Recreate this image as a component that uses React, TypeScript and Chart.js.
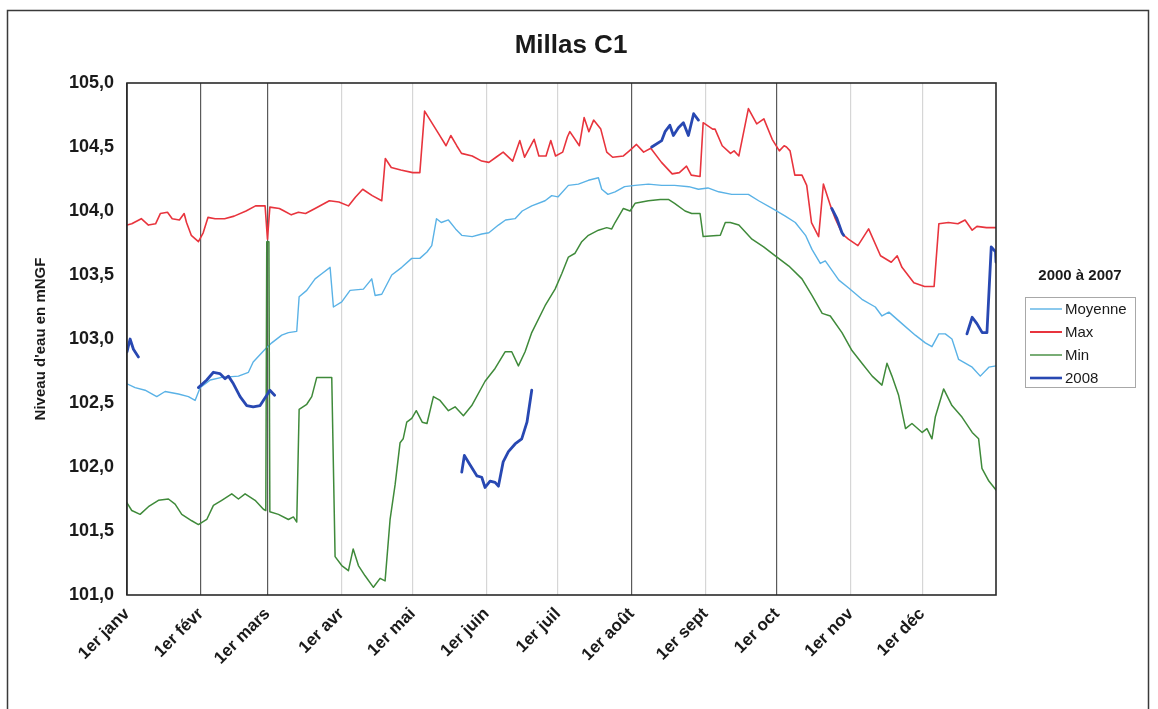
import React, { useEffect, useRef } from 'react';
import { Chart, registerables } from 'chart.js';

Chart.register(...registerables);

const FONT = "'Liberation Sans', Arial, Helvetica, sans-serif";

const chartTitle = 'Millas C1';
const legendTitle = '2000 à 2007';
const yAxisTitle = "Niveau d'eau en mNGF";

// x = day of year (0 = 1er janv), y = niveau (mNGF)
const monthStarts = [0, 31, 59, 90, 120, 151, 181, 212, 243, 273, 304, 334];
const monthLabels = ['1er janv', '1er févr', '1er mars', '1er avr', '1er mai', '1er juin', '1er juil', '1er août', '1er sept', '1er oct', '1er nov', '1er déc'];
const monthGridColors = ['#333333', '#5a5a5a', '#5a5a5a', '#d6d6d6', '#d6d6d6', '#d6d6d6', '#d6d6d6', '#5a5a5a', '#d6d6d6', '#5a5a5a', '#d6d6d6', '#d6d6d6'];
const yTicks = [101, 101.5, 102, 102.5, 103, 103.5, 104, 104.5, 105];

const moyenne: [number, number][] = [
  [0, 102.65], [3.4, 102.62], [7.6, 102.6], [12.5, 102.55], [16, 102.59], [21.6, 102.57], [25.8, 102.55], [28.6, 102.52],
  [30.7, 102.62], [35, 102.68], [39.8, 102.7], [46.8, 102.71], [51, 102.74], [53, 102.82], [58, 102.92], [60.8, 102.97],
  [65, 103.03], [67.8, 103.05], [71.3, 103.06], [72.3, 103.33], [75.5, 103.38], [79, 103.47], [81.8, 103.51], [85.3, 103.56],
  [86.7, 103.25], [90.2, 103.29], [93.7, 103.38], [99.3, 103.39], [102.8, 103.47], [104.2, 103.34], [107, 103.35], [111.2, 103.5],
  [115.4, 103.56], [119.6, 103.63], [123, 103.63], [126, 103.68], [128, 103.73], [130, 103.94], [132, 103.91], [135, 103.93],
  [138, 103.86], [140.6, 103.81], [145, 103.8], [149, 103.82], [152, 103.83], [156, 103.89], [159, 103.93], [163, 103.94],
  [166, 104.0], [170, 104.04], [175.6, 104.08], [178.4, 104.12], [181, 104.11], [185.4, 104.2], [189.6, 104.21], [193.8, 104.24],
  [198, 104.26], [199.4, 104.17], [202, 104.13], [205, 104.15], [209, 104.19], [213.4, 104.2], [219, 104.21], [224.6, 104.2],
  [230, 104.2], [236, 104.19], [240, 104.17], [244, 104.18], [248.5, 104.15], [254, 104.13], [261, 104.13], [265.3, 104.08],
  [271, 104.02], [276.5, 103.96], [280.7, 103.91], [285, 103.81], [287.7, 103.7], [291.2, 103.59], [293.3, 103.61], [299, 103.46],
  [303, 103.4], [308.7, 103.31], [314.3, 103.25], [317.1, 103.18], [320, 103.21], [325.5, 103.12], [331.1, 103.03], [335.3, 102.97],
  [338.1, 102.94], [341, 103.04], [343.7, 103.04], [346.5, 103.0], [349.3, 102.84], [355, 102.78], [358.4, 102.71], [362, 102.78],
  [365, 102.79],
];

const maximum: [number, number][] = [
  [0, 103.89], [2, 103.9], [6, 103.94], [9, 103.89], [12, 103.9], [14, 103.98], [17, 103.99], [19, 103.94], [22, 103.93],
  [24, 103.98], [25, 103.91], [27, 103.81], [30, 103.76], [32, 103.83], [34, 103.95], [37, 103.94], [41, 103.94], [45, 103.96],
  [50, 104.0], [54, 104.04], [58, 104.04], [59, 103.78], [60, 104.03], [64, 104.02], [66, 104.0], [69, 103.97], [72, 103.99],
  [75, 103.98], [79, 104.02], [85, 104.08], [89, 104.07], [93, 104.04], [96, 104.11], [99, 104.17], [103, 104.12], [107, 104.08],
  [108.5, 104.41], [111, 104.34], [115, 104.32], [120, 104.3], [123, 104.3], [125, 104.78], [128, 104.69], [131, 104.6],
  [134, 104.51], [136, 104.59], [138.5, 104.51], [140.5, 104.45], [145, 104.43], [149, 104.39], [152, 104.38], [155, 104.42],
  [158, 104.46], [162, 104.39], [165, 104.55], [167, 104.42], [171, 104.56], [173, 104.43], [176, 104.43], [178, 104.55],
  [180, 104.43], [183, 104.46], [185, 104.58], [186, 104.62], [190, 104.51], [192, 104.73], [194, 104.62], [196, 104.71],
  [199, 104.64], [201.5, 104.46], [204, 104.42], [208.5, 104.43], [211, 104.47], [214, 104.52], [217, 104.46], [220, 104.49],
  [224.5, 104.38], [229, 104.29], [232, 104.3], [235, 104.35], [237, 104.28], [240.7, 104.27], [242, 104.69], [246, 104.64],
  [247, 104.64], [250, 104.51], [253.5, 104.45], [255, 104.47], [257, 104.43], [261, 104.8], [264.5, 104.68], [267.5, 104.72],
  [271, 104.56], [274, 104.47], [276, 104.51], [277, 104.5], [278.5, 104.47], [280.5, 104.28], [283.5, 104.28], [285.5, 104.2],
  [287.5, 103.91], [290.5, 103.8], [292.5, 104.21], [295.5, 104.04], [297.5, 103.94], [300.5, 103.82], [303, 103.78],
  [307, 103.73], [311.5, 103.86], [316.5, 103.65], [321, 103.6], [323.5, 103.65], [325.5, 103.56], [330.5, 103.44],
  [335, 103.41], [339, 103.41], [341, 103.9], [345, 103.91], [349, 103.9], [352, 103.93], [355, 103.85], [357, 103.88],
  [361, 103.87], [365, 103.87],
];

const minimum: [number, number][] = [
  [0, 101.72], [2, 101.66], [5.5, 101.63], [9, 101.69], [13.2, 101.74], [17.4, 101.75], [20.2, 101.71], [23, 101.63],
  [27.2, 101.58], [30, 101.55], [33.5, 101.59], [36.3, 101.7], [39.8, 101.74], [44, 101.79], [46.8, 101.75], [49.6, 101.79],
  [53.8, 101.74], [57.3, 101.67], [58.3, 101.66], [58.7, 103.76], [59.6, 103.76], [60, 101.65], [63.6, 101.63], [67.8, 101.59],
  [69.9, 101.61], [71.3, 101.57], [72.3, 102.45], [75.5, 102.49], [77.6, 102.55], [79.7, 102.7], [86, 102.7], [87.4, 101.3],
  [90.2, 101.23], [93, 101.19], [95, 101.36], [97.2, 101.23], [100, 101.15], [103.5, 101.06], [106.3, 101.13], [108.4, 101.11],
  [110.5, 101.59], [112.6, 101.86], [114.7, 102.19], [116, 102.22], [117.5, 102.35], [119.6, 102.38], [121.5, 102.44],
  [124, 102.35], [126, 102.34], [128.7, 102.55], [131.5, 102.52], [135, 102.44], [137.8, 102.47], [141.3, 102.4], [144.8, 102.48],
  [150.4, 102.67], [154.6, 102.77], [158.8, 102.9], [161.6, 102.9], [164.4, 102.79], [167.2, 102.9], [170, 103.05],
  [175.6, 103.26], [179.8, 103.39], [182.6, 103.51], [185.4, 103.64], [188.2, 103.67], [191, 103.76], [193.8, 103.81],
  [198, 103.85], [201.5, 103.87], [203.6, 103.86], [205, 103.91], [208.5, 104.02], [211.3, 104.0], [213.4, 104.06],
  [219, 104.08], [224, 104.09], [227.4, 104.09], [230, 104.06], [234.4, 104.0], [237.2, 103.98], [240.7, 103.98], [242, 103.8],
  [249.2, 103.81], [251.3, 103.91], [253.4, 103.91], [257, 103.89], [262.5, 103.78], [267.4, 103.72], [272.3, 103.65],
  [278, 103.57], [283.5, 103.47], [287.7, 103.34], [292, 103.2], [295.4, 103.18], [300.3, 103.05], [304.5, 102.91],
  [308.7, 102.81], [313, 102.71], [317.1, 102.64], [319.2, 102.81], [321.3, 102.71], [324.1, 102.56], [327, 102.3],
  [329.7, 102.34], [334, 102.27], [336, 102.3], [338.1, 102.22], [339.5, 102.39], [343, 102.61], [346.5, 102.48],
  [350.7, 102.39], [355, 102.27], [357.7, 102.22], [359.1, 101.99], [362, 101.89], [365, 101.82],
];

const y2008Janv: [number, number][] = [[0, 102.9], [1.3, 103.0], [2.7, 102.92], [4.8, 102.86]];
const y2008Fev: [number, number][] = [
  [30, 102.62], [33.5, 102.68], [36.3, 102.74], [39, 102.73], [41.2, 102.69], [42.6, 102.71], [44.7, 102.65],
  [47.5, 102.55], [50.3, 102.48], [53, 102.47], [55.9, 102.48], [58.7, 102.56], [60, 102.6], [62, 102.56],
];
const y2008Juin: [number, number][] = [
  [140.6, 101.96], [141.7, 102.09], [144, 102.02], [147, 101.93], [149, 101.92], [150.4, 101.84], [152.5, 101.89],
  [154.6, 101.88], [156, 101.85], [158, 102.04], [160.2, 102.12], [163, 102.18], [165.8, 102.22], [168, 102.35], [170, 102.6],
];
const y2008Aout: [number, number][] = [
  [220.4, 104.5], [224.6, 104.55], [226, 104.62], [228, 104.67], [229.5, 104.59], [231.6, 104.65], [233.7, 104.69],
  [235.8, 104.59], [238, 104.76], [240, 104.71],
];
const y2008Oct: [number, number][] = [[296, 104.02], [298.2, 103.94], [300.3, 103.83], [301, 103.81]];
const y2008Dec: [number, number][] = [
  [352.8, 103.04], [355, 103.17], [357, 103.12], [359.2, 103.05], [361.2, 103.05], [363, 103.72], [364.8, 103.68], [365, 103.6],
];

const toPts = (arr: [number, number][]) => arr.map(([x, y]) => ({ x, y }));
const joinSegments = (segs: [number, number][][]) => {
  const out: { x: number; y: number | null }[] = [];
  segs.forEach((s, i) => {
    if (i > 0) out.push({ x: (out[out.length - 1].x + s[0][0]) / 2, y: null });
    out.push(...toPts(s));
  });
  return out;
};

const decorPlugin = {
  id: 'decor',
  beforeDraw(chart: any) {
    const { ctx } = chart;
    ctx.save();
    ctx.fillStyle = '#ffffff';
    ctx.fillRect(0, 0, chart.width, chart.height);
    ctx.restore();
  },
  afterDraw(chart: any) {
    const { ctx, chartArea } = chart;
    ctx.save();
    // outer frame (bottom edge falls outside the picture)
    ctx.strokeStyle = '#3a3a3a';
    ctx.lineWidth = 1.5;
    ctx.strokeRect(7.5, 10.5, 1141, 705);
    // plot area border
    ctx.strokeStyle = '#2a2a2a';
    ctx.lineWidth = 1.6;
    ctx.strokeRect(chartArea.left, chartArea.top, chartArea.right - chartArea.left, chartArea.bottom - chartArea.top);
    // title
    ctx.fillStyle = '#1a1a1a';
    ctx.font = `bold 26px ${FONT}`;
    ctx.textAlign = 'center';
    ctx.textBaseline = 'alphabetic';
    ctx.fillText(chartTitle, 571, 53);
    // legend
    ctx.font = `bold 15px ${FONT}`;
    ctx.textBaseline = 'middle';
    ctx.fillText(legendTitle, 1080, 276);
    ctx.strokeStyle = '#a8a8a8';
    ctx.lineWidth = 1;
    ctx.strokeRect(1025.5, 297.5, 110, 90);
    ctx.font = `15px ${FONT}`;
    ctx.textAlign = 'left';
    const items = chart.data.datasets.map((d: any) => d).sort((a: any, b: any) => a.legendIndex - b.legendIndex);
    items.forEach((d: any, i: number) => {
      const y = 309 + i * 23;
      ctx.strokeStyle = d.borderColor;
      ctx.lineWidth = d.legendLineWidth;
      ctx.beginPath();
      ctx.moveTo(1030, y);
      ctx.lineTo(1062, y);
      ctx.stroke();
      ctx.fillStyle = '#1a1a1a';
      ctx.fillText(d.label, 1065, y + 1);
    });
    ctx.restore();
  },
};

export default function App() {
  const ref = useRef<HTMLCanvasElement | null>(null);

  useEffect(() => {
    if (!ref.current) return;
    Chart.defaults.font.family = FONT;
    const chart = new Chart(ref.current, {
      type: 'line',
      data: {
        datasets: [
          { label: 'Moyenne', data: toPts(moyenne), borderColor: '#5ab2e6', borderWidth: 1.4, legendLineWidth: 1.4, legendIndex: 0, order: 3 } as any,
          { label: 'Max', data: toPts(maximum), borderColor: '#e8343d', borderWidth: 1.6, legendLineWidth: 2, legendIndex: 1, order: 2 } as any,
          { label: 'Min', data: toPts(minimum), borderColor: '#3f8a3a', borderWidth: 1.5, legendLineWidth: 1.4, legendIndex: 2, order: 1 } as any,
          { label: '2008', data: joinSegments([y2008Janv, y2008Fev, y2008Juin, y2008Aout, y2008Oct, y2008Dec]), borderColor: '#2848b2', borderWidth: 2.8, legendLineWidth: 2.6, legendIndex: 3, order: 0, spanGaps: false } as any,
        ],
      },
      options: {
        responsive: false,
        animation: false,
        events: [],
        elements: { point: { radius: 0 }, line: { tension: 0, borderJoinStyle: 'round', borderCapStyle: 'round' } },
        layout: { padding: { left: 0, right: 162, top: 83, bottom: 0 } },
        plugins: { legend: { display: false }, title: { display: false }, tooltip: { enabled: false } },
        scales: {
          x: {
            type: 'linear',
            min: 0,
            max: 365,
            afterBuildTicks: (s: any) => { s.ticks = monthStarts.map((v) => ({ value: v })); },
            afterFit: (s: any) => { s.height = 114; },
            ticks: {
              autoSkip: false,
              minRotation: 45,
              maxRotation: 45,
              padding: 9,
              color: '#1a1a1a',
              font: { family: FONT, size: 17, weight: 'bold' },
              callback: (_v: any, i: number) => monthLabels[i] ?? '',
            },
            grid: { color: (c: any) => monthGridColors[c.index] ?? 'rgba(0,0,0,0)', lineWidth: 1.2, drawTicks: false },
            border: { display: false },
          },
          y: {
            min: 101,
            max: 105,
            afterBuildTicks: (s: any) => { s.ticks = yTicks.map((v) => ({ value: v })); },
            afterFit: (s: any) => { s.width = 127; },
            ticks: {
              padding: 13,
              color: '#1a1a1a',
              font: { family: FONT, size: 18, weight: 'bold' },
              callback: (v: any) => Number(v).toFixed(1).replace('.', ','),
            },
            grid: { display: false, drawTicks: false },
            border: { display: false },
            title: { display: true, text: yAxisTitle, color: '#1a1a1a', font: { family: FONT, size: 15, weight: 'bold' }, padding: { top: 32, bottom: 0 } },
          },
        },
      },
      plugins: [decorPlugin],
    } as any);
    return () => chart.destroy();
  }, []);

  return (
    <div style={{ position: 'absolute', left: 0, top: 0, width: 1158, height: 709, background: '#fff' }}>
      <canvas ref={ref} width={1158} height={709} style={{ display: 'block', width: 1158, height: 709 }} />
    </div>
  );
}
